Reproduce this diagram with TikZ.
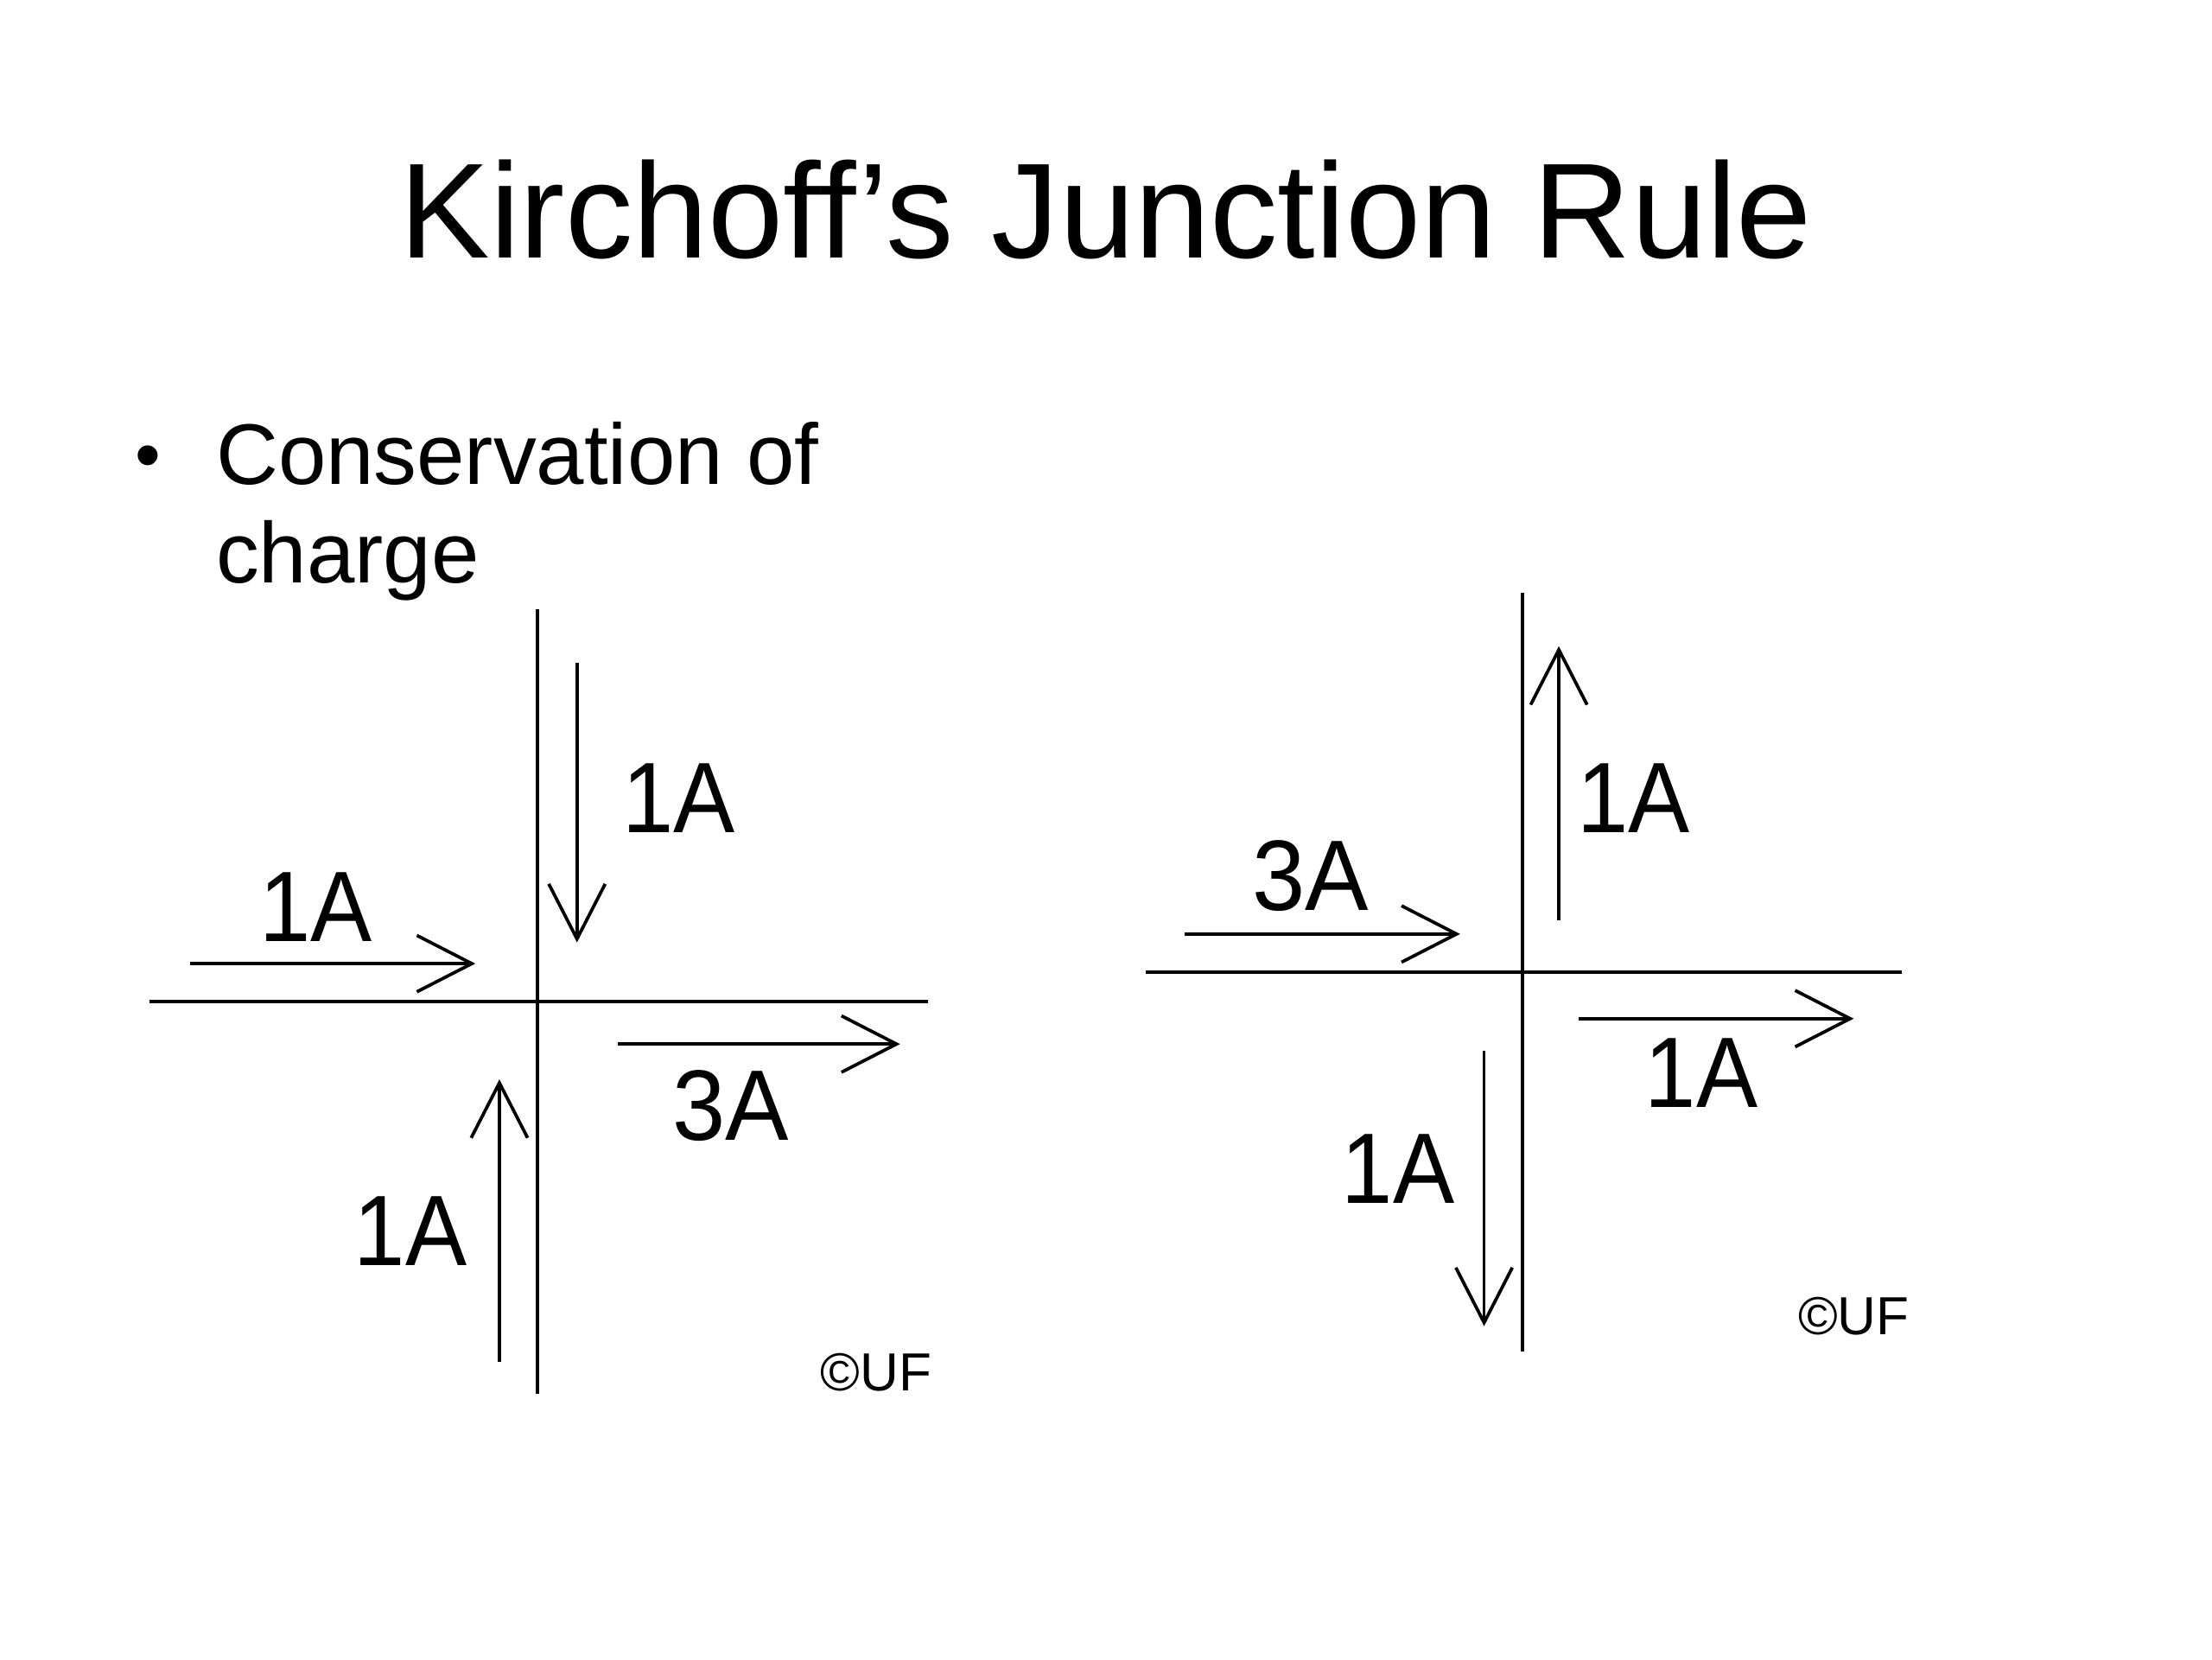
\documentclass[tikz,border=0pt]{standalone}
\usepackage{fontspec}
\setmainfont{Liberation Sans}
\usetikzlibrary{positioning, calc, arrows.meta}
\tikzstyle{Arrow} = [
    line width = 2.3pt,
    -{Straight Barb[length=39pt, width=40pt]}
]

\begin{document}
\begin{tikzpicture}[
x = 1pt, y = -1pt,
wire/.style = {line width = 2.5pt},
amps/.style = {
    anchor = base,
    inner sep = 0pt,
    font = \fontsize{71}{71}\selectfont
    },
credit/.style = {
    anchor = base,
    inner sep = 0pt,
    font = \fontsize{38}{38}\selectfont
    }
]

\useasboundingbox (0,0) rectangle (1568,1176);

% title and bullet
\node [anchor = base, inner sep = 0pt, font = \fontsize{96}{96}\selectfont] (title) at (784,183) {Kirchoff’s Junction Rule};
\node [anchor = base, inner sep = 0pt, font = \fontsize{52}{70}\selectfont] (dot) at (105,340) {•};
\node [anchor = base west, inner sep = 0pt, font = \fontsize{61}{70}\selectfont] (line1) at (153,343) {Conservation of};
\node [anchor = base west, inner sep = 0pt, font = \fontsize{61}{70}\selectfont] (line2) at (153,413) {charge};

% left junction
\coordinate (1n) at (381,432);
\coordinate (1s) at (381,988);
\coordinate (1w) at (106,710);
\coordinate (1e) at (658,710);
\draw[wire] (1n) -- (1s);
\draw[wire] (1w) -- (1e);

\coordinate (1a) at (135,683);
\coordinate (1b) at (337,683);
\coordinate (1c) at (409,470);
\coordinate (1d) at (409,668);
\coordinate (1f) at (438,740);
\coordinate (1g) at (638,740);
\coordinate (1h) at (354,965);
\coordinate (1k) at (354,765);

\draw[Arrow] (1a) -- (1b);
\draw[Arrow] (1c) -- (1d);
\draw[Arrow] (1f) -- (1g);
\draw[Arrow] (1h) -- (1k);

\node [amps] (1A1) at (224,667) {\scalebox{0.92}[1]{1A}};
\node [amps] (1A2) at (481,590) {\scalebox{0.92}[1]{1A}};
\node [amps] (3A1) at (518,808) {\scalebox{0.95}[1]{3A}};
\node [amps] (1A3) at (291,897) {\scalebox{0.92}[1]{1A}};
\node [credit] (uf1) at (621,986) {©UF};

% right junction
\coordinate (2n) at (1079,420);
\coordinate (2s) at (1079,958);
\coordinate (2w) at (812,689);
\coordinate (2e) at (1348,689);
\draw[wire] (2n) -- (2s);
\draw[wire] (2w) -- (2e);

\coordinate (2a) at (840,662);
\coordinate (2b) at (1035,662);
\coordinate (2c) at (1105,652);
\coordinate (2d) at (1105,458);
\coordinate (2f) at (1119,722);
\coordinate (2g) at (1314,722);
\coordinate (2h) at (1052,745);
\coordinate (2k) at (1052,940);

\draw[Arrow] (2a) -- (2b);
\draw[Arrow] (2c) -- (2d);
\draw[Arrow] (2f) -- (2g);
\draw[Arrow] (2h) -- (2k);

\node [amps] (3A2) at (929,645) {\scalebox{0.95}[1]{3A}};
\node [amps] (1A4) at (1158,590) {\scalebox{0.92}[1]{1A}};
\node [amps] (1A5) at (1206,785) {\scalebox{0.92}[1]{1A}};
\node [amps] (1A6) at (991,853) {\scalebox{0.92}[1]{1A}};
\node [credit] (uf2) at (1314,946) {©UF};

\end{tikzpicture}
\end{document}
